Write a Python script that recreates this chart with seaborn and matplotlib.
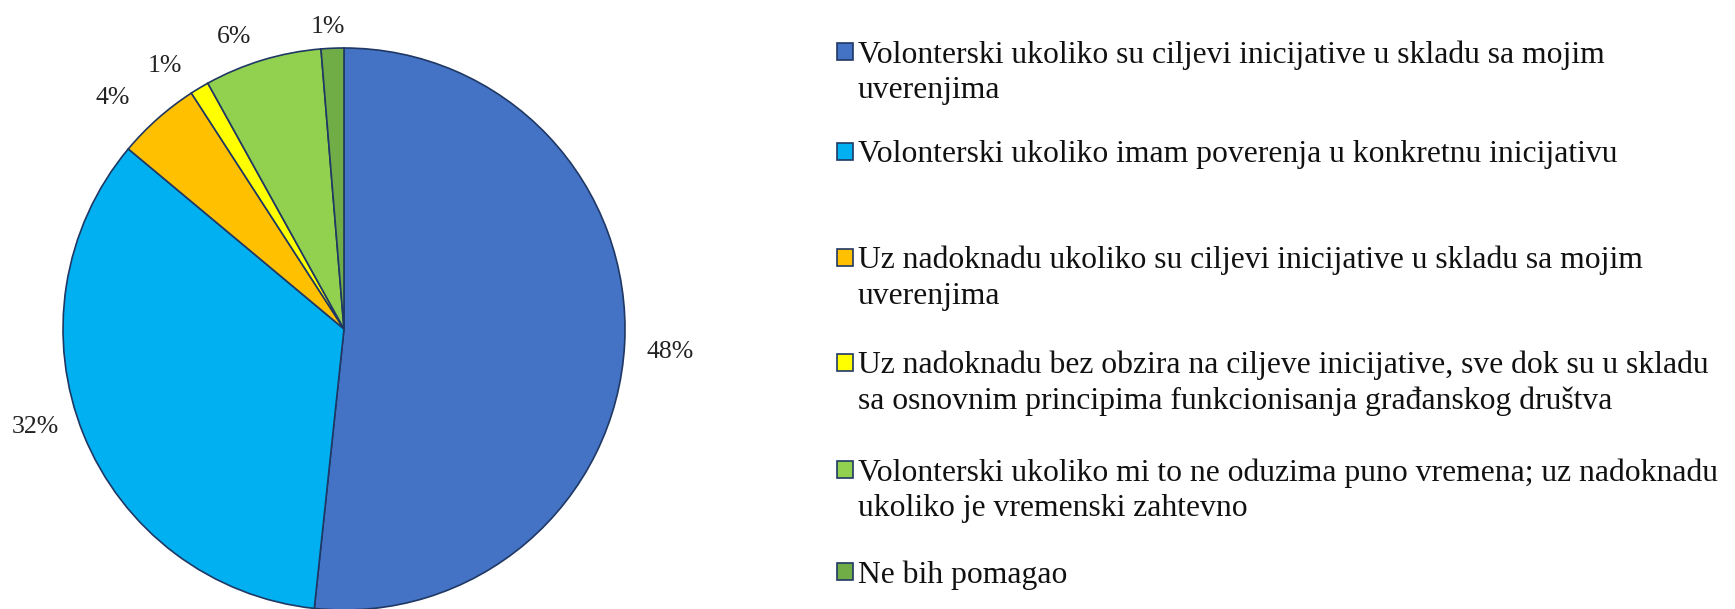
import numpy as np
import matplotlib
matplotlib.use("Agg")
import matplotlib.pyplot as plt
import seaborn as sns
from matplotlib.patches import Rectangle

categories = [
    "Volonterski ukoliko su ciljevi inicijative u skladu sa mojim\nuverenjima",
    "Volonterski ukoliko imam poverenja u konkretnu inicijativu",
    "Uz nadoknadu ukoliko su ciljevi inicijative u skladu sa mojim\nuverenjima",
    "Uz nadoknadu bez obzira na ciljeve inicijative, sve dok su u skladu\nsa osnovnim principima funkcionisanja građanskog društva",
    "Volonterski ukoliko mi to ne oduzima puno vremena; uz nadoknadu\nukoliko je vremenski zahtevno",
    "Ne bih pomagao",
]
values = [47.5, 31.6, 4.4, 1.0, 6.2, 1.2]
value_labels = ["48%", "32%", "4%", "1%", "6%", "1%"]
colors = ["#4472C4", "#00B0F0", "#FFC000", "#FFFF00", "#92D050", "#70AD47"]

sns.set_theme(style="white")
plt.rcParams["font.family"] = ["Liberation Serif", "DejaVu Serif"]

W, H = 1735, 609
fig = plt.figure(figsize=(W / 100, H / 100), dpi=100)
fig.patch.set_facecolor("white")

cx, cy, r = 344, 329, 281
ax = fig.add_axes([(cx - r) / W, (H - cy - r) / H, 2 * r / W, 2 * r / H])
wedges, texts = ax.pie(
    values, labels=value_labels, colors=colors, startangle=90, counterclock=False,
    labeldistance=1.15, wedgeprops=dict(edgecolor="#1F3864", linewidth=1.2),
    textprops=dict(fontsize=18.5, color="#222222"),
)
label_shift = [-0.5, -4.8, 3.2, 3.1, 3.7, 0.6]
label_dist = [1.164, 1.15, 1.168, 1.139, 1.118, 1.085]
for w, t, s, d in zip(wedges, texts, label_shift, label_dist):
    ang = np.deg2rad((w.theta1 + w.theta2) / 2 + s)
    t.set_position((d * np.cos(ang), d * np.sin(ang)))
    t.set_ha("center")
    t.set_va("center_baseline")
ax.set_xlim(-1, 1)
ax.set_ylim(-1, 1)
ax.set_aspect("equal")
ax.axis("off")

# legend
row_y = [52, 152, 258, 363, 470, 572]
for lab, col, y in zip(categories, colors, row_y):
    fig.add_artist(Rectangle((837 / W, 1 - (y + 8) / H), 16 / W, 17 / H,
                             transform=fig.transFigure, facecolor=col,
                             edgecolor="#1F3864", linewidth=1.2))
    fig.text(858 / W, 1 - (y - 12) / H, lab, fontsize=22.8, va="top", ha="left",
             color="#111111", linespacing=1.28)

fig.savefig("out.png", dpi=100, facecolor="white")
